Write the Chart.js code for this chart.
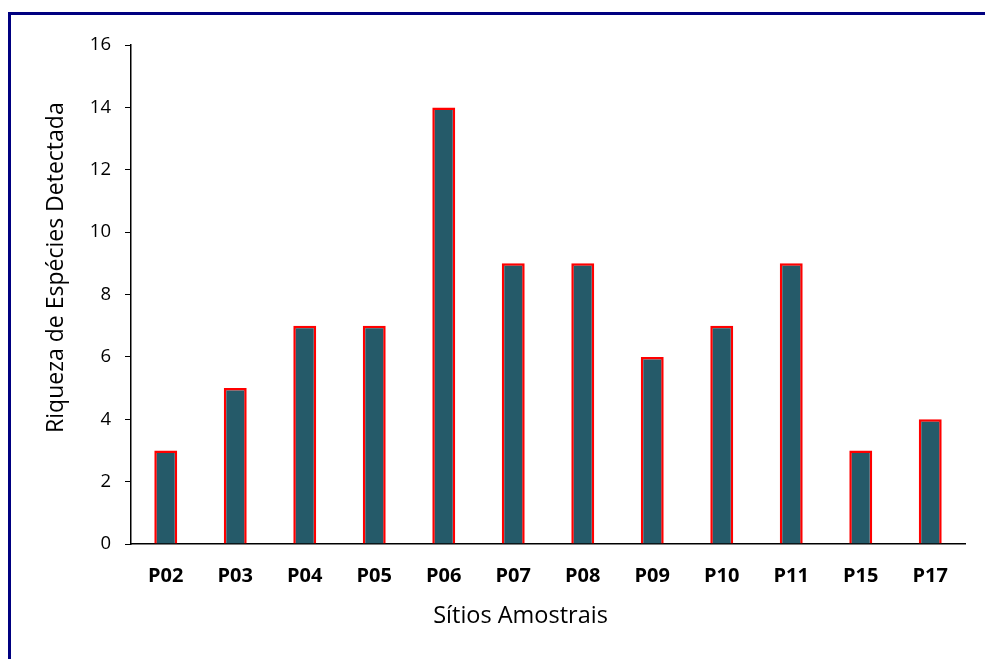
<!DOCTYPE html>
<html><head><meta charset="utf-8">
<script src="https://cdn.jsdelivr.net/npm/chart.js@4/dist/chart.umd.min.js"></script>
<style>
html,body{margin:0;padding:0;background:#fff;}
#wrap{position:relative;width:985px;height:659px;overflow:hidden;}
#frame{position:absolute;left:8px;top:12px;width:1000px;height:700px;border-left:3px solid #000080;border-top:3px solid #000080;pointer-events:none;}
canvas{position:absolute;left:0;top:0;}
</style></head>
<body><div id="wrap"><canvas id="c" width="985" height="659"></canvas><div id="frame"></div></div>
<script>
const categories = ['P02','P03','P04','P05','P06','P07','P08','P09','P10','P11','P15','P17'];
const richness = [3,5,7,7,14,9,9,6,7,9,3,4];
const yTicks = [0,2,4,6,8,10,12,14,16];
const pad = '\u00A0'.repeat(9);
const xTitle = 'Sítios Amostrais';
const yTitle = 'Riqueza de Espécies Detectada';
const font = "Open Sans, Liberation Sans, sans-serif";
new Chart(document.getElementById('c'), {
  type: 'bar',
  data: { labels: categories, datasets: [{ data: richness, backgroundColor: '#255A69', borderColor: '#FF0000', borderWidth: 2.5, barPercentage: 0.33, categoryPercentage: 1 }] },
  options: {
    responsive: false, animation: false,
    layout: { padding: { top: 45, right: 20, left: 43, bottom: 29 } },
    plugins: { legend: { display: false }, tooltip: { enabled: false } },
    scales: {
      x: {
        grid: { display: false, drawTicks: false },
        border: { color: '#000', width: 1.5 },
        ticks: { color: '#000', font: { family: font, size: 20, weight: 'bold' }, padding: 20, maxRotation: 0 },
        title: { display: true, text: xTitle + pad, color: '#000', font: { family: font, size: 23.5 }, padding: 0 },
        afterFit: s => { s.height = 86; }
      },
      y: {
        min: 0, max: 16,
        afterBuildTicks: s => { s.ticks = yTicks.map(v => ({ value: v })); },
        grid: { drawOnChartArea: false, drawTicks: true, tickLength: 6, color: '#000' },
        border: { color: '#000', width: 1.5 },
        ticks: { color: '#000', font: { family: font, size: 18.5 }, padding: 14 },
        title: { display: true, text: pad + yTitle, color: '#000', font: { family: font, size: 23 }, padding: 0 },
        afterFit: s => { s.width = 88; }
      }
    }
  }
});
</script></body></html>
